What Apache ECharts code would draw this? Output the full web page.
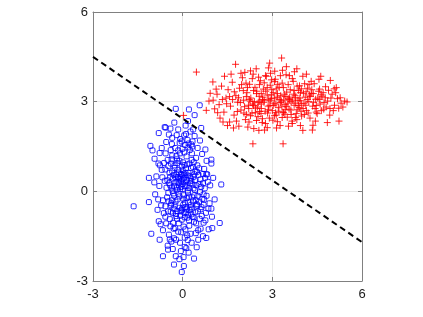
<!DOCTYPE html>
<html>
<head>
<meta charset="utf-8">
<script src="https://cdn.jsdelivr.net/npm/echarts@6/dist/echarts.min.js"></script>
<style>
  html, body { margin: 0; padding: 0; background: #fff; }
  #chart { width: 423px; height: 317px; }
</style>
</head>
<body>
<div id="chart"></div>
<script>
// axis ticks
const ticks = [-3, 0, 3, 6]

// class 1 (red plus markers)
const redPts = [
  [0.46,3.99],[0.03,2.54],[1.77,4.25],[2.91,4.29],[3.31,4.46],[2.46,4.10],[3.08,4.02],[3.82,4.10],[2.35,1.59],[3.36,1.59],
  [2.55,2.04],[4.02,2.04],[5.23,2.35],[5.50,2.99],[5.36,2.82],[5.14,3.47],[4.94,3.71],[4.56,3.75],[4.30,3.68],[1.01,3.66],
  [0.79,2.71],[0.88,3.02],[1.07,2.76],[1.35,2.32],[1.57,2.32],[4.36,2.21],[4.47,2.65],
  [1.02,3.05],[1.15,3.25],[1.22,2.90],[1.30,3.52],[1.38,2.65],[1.45,3.12],[1.52,3.40],[1.60,2.85],[1.66,3.65],[1.72,2.55],
  [1.78,3.20],[1.84,2.98],[1.90,3.45],[1.95,2.72],[2.00,3.80],[2.04,3.05],[2.10,2.40],[2.15,3.30],[2.20,2.88],[2.24,3.58],
  [2.28,3.12],[2.32,2.62],[2.36,3.92],[2.40,3.00],[2.44,2.78],[2.48,3.35],[2.52,2.50],[2.56,3.18],[2.60,3.70],[2.63,2.92],
  [2.66,2.30],[2.70,3.42],[2.73,3.05],[2.76,2.68],[2.80,3.85],[2.83,3.22],[2.86,2.85],[2.90,2.45],[2.93,3.55],[2.96,3.10],
  [3.00,2.70],[3.03,3.30],[3.06,2.95],[3.10,3.75],[3.13,2.55],[3.16,3.15],[3.20,2.80],[3.23,3.48],[3.26,2.20],[3.30,3.02],
  [3.33,3.62],[3.36,2.65],[3.40,3.25],[3.43,2.90],[3.46,3.90],[3.50,2.48],[3.53,3.10],[3.56,2.75],[3.60,3.40],[3.63,3.00],
  [3.66,2.35],[3.70,3.68],[3.73,2.88],[3.76,3.20],[3.80,2.60],[3.83,3.52],[3.86,3.05],[3.90,2.80],[3.94,3.30],[3.98,2.52],
  [4.02,3.85],[4.06,2.95],[4.10,3.15],[4.14,2.70],[4.18,3.45],[4.22,3.00],[4.26,2.45],[4.30,3.28],[4.35,2.85],[4.40,3.60],
  [4.45,3.08],[4.50,2.60],[4.55,3.35],[4.60,2.92],[4.66,3.18],[4.72,2.75],[4.78,3.50],[4.85,3.02],[4.92,2.55],[5.00,3.25],
  [5.08,2.88],[5.18,3.10],[5.30,2.95],[5.42,3.02],
  [1.80,2.35],[1.95,3.95],[2.05,2.62],[2.12,3.62],[2.18,2.15],[2.26,3.02],[2.34,2.92],[2.42,3.48],[2.50,2.82],[2.58,3.02],
  [2.62,2.60],[2.68,3.15],[2.72,2.98],[2.78,3.35],[2.84,2.62],[2.88,3.08],[2.92,2.88],[2.98,3.40],[3.02,2.38],[3.08,3.12],
  [3.12,2.92],[3.18,3.58],[3.22,2.68],[3.28,3.20],[3.32,2.85],[3.38,3.05],[3.42,2.58],[3.48,3.32],[3.52,2.95],[3.58,3.15],
  [3.62,2.72],[3.68,3.05],[3.72,3.25],[3.78,2.95],[3.82,2.40],[3.88,3.38],[3.92,3.12],[3.96,2.68],[4.04,3.28],[4.08,3.60],
  [4.12,2.88],[4.20,2.62],[4.24,3.22],[4.32,3.40],[4.38,2.98],[4.44,2.35],[4.52,3.12],[4.58,3.42],[4.64,2.70],[4.70,3.30],
  [4.80,2.82],[4.88,3.38],[4.96,3.12],[5.04,2.70],[5.12,3.30],[5.22,2.78],
  [1.40,3.85],[1.62,3.92],[1.88,2.18],[2.08,3.98],[2.22,2.32],[2.38,2.10],[2.54,3.82],[2.74,2.05],[2.94,3.95],[3.14,2.12],
  [3.34,4.05],[3.54,2.18],[3.74,4.00],[3.94,2.20],[4.14,3.92],[4.34,2.05],[4.62,3.85],[4.84,2.30],[1.25,2.45],[1.12,3.42],
  [1.50,2.20],[0.92,3.28],[1.70,2.12],
  [2.47,3.27],[3.11,2.63],[2.83,3.47],[3.57,3.07],[2.21,2.77],[3.91,3.53],[2.67,2.43],[3.27,3.87],[2.13,3.17],[4.03,2.77],
  [1.93,2.97],[3.47,2.83],[2.57,3.57],[3.77,2.47],[2.37,3.37],[4.27,3.17],[1.67,3.07],[3.07,3.67],[2.77,2.27],[3.67,3.77],
  [2.03,3.37],[4.47,2.87],[1.83,2.67],[3.17,2.33],[2.97,3.23],[3.37,3.47],[2.27,2.53],[4.17,3.07],[2.87,2.73],[3.87,2.87],
  [1.57,3.17],[2.53,2.97],[3.23,3.07],[3.97,3.43],[2.43,2.63],[3.63,2.57],[2.17,3.47],[4.37,3.27],[2.73,3.63],[3.43,2.73],
  [1.47,2.93],[2.93,3.03],[3.53,3.57],[4.07,2.57],[2.63,3.27],[3.33,2.47],[2.07,2.83],[4.57,3.07],[3.03,2.87],[3.73,3.37],
  [1.73,3.33],[2.33,3.77],[3.13,3.43],[3.83,2.73],[2.83,2.13],[4.23,3.57],[2.23,3.07],[3.43,3.17],[2.63,2.77],[4.73,2.97],
  [1.97,3.57],[3.27,2.97],[2.47,2.37],[3.93,3.03],[2.77,3.87],[4.43,2.77],[3.07,2.53],[3.57,3.87],[2.13,2.57],[4.13,3.33],
  [1.87,3.13],[2.67,3.07],[3.37,2.63],[3.97,2.93],[2.97,3.73],[4.63,3.23],[2.37,2.87],[3.17,3.27],[3.77,3.13],[2.57,2.67],
  [5.27,3.13],[4.93,2.77],[5.07,3.43],[1.33,3.07],[1.17,2.63],[4.77,3.13],[2.87,4.13],[3.67,2.27],[2.27,4.03],[3.47,4.17]
]

// class 2 (blue square markers)
const bluePts = [
  [-1.64,-0.50],[-1.13,0.45],[-1.13,-0.36],[-1.05,-1.42],[-1.08,1.52],[-1.01,1.37],[-0.23,2.76],[0.21,2.74],[0.57,2.88],[1.29,0.23],
  [1.24,-1.06],[0.99,-1.23],[-0.66,-2.17],[-0.23,-2.17],[0.03,-2.20],[0.38,-2.25],[-0.29,-2.45],[0.04,-2.50],[-0.03,-2.70],[-0.49,-1.95],
  [0.07,-1.86],[-0.77,-1.62],[-0.43,-1.61],[0.79,-1.56],[0.62,2.12],[-0.57,2.13],[-0.41,2.10],[-0.80,1.95],[-0.35,1.79],[0.96,1.06],
  [0.96,0.93],[0.79,0.57],[0.96,-0.58],[-0.81,0.93],[-0.94,1.09],[-0.77,1.28],
  [-0.55,1.65],[-0.48,0.85],[-0.42,0.20],[-0.38,-0.40],[-0.35,1.20],[-0.32,-1.05],[-0.30,0.55],[-0.28,-0.15],[-0.25,1.45],[-0.22,-0.75],
  [-0.20,0.05],[-0.18,0.95],[-0.15,-1.35],[-0.12,0.40],[-0.10,-0.55],[-0.08,1.75],[-0.05,0.15],[-0.03,-0.95],[0.00,0.70],[0.02,-0.25],
  [0.05,1.30],[0.07,-1.55],[0.10,0.30],[0.12,-0.70],[0.15,0.90],[0.18,-0.05],[0.20,1.60],[0.22,-1.15],[0.25,0.50],[0.28,-0.45],
  [0.30,1.05],[0.33,-0.85],[0.36,0.10],[0.40,1.85],[0.44,-0.30],[0.48,0.65],[0.52,-1.30],[0.56,0.25],[0.60,-0.60],[0.65,1.25],
  [0.70,-0.10],[0.75,0.45],
  [-0.60,0.35],[-0.58,-0.85],[-0.52,-0.20],[-0.50,1.05],[-0.46,-1.45],[-0.44,0.62],[-0.40,-0.68],[-0.36,1.58],[-0.34,0.02],[-0.30,-1.25],
  [-0.27,0.78],[-0.24,-0.35],[-0.21,1.18],[-0.19,-0.92],[-0.16,0.48],[-0.14,-0.08],[-0.11,1.02],[-0.09,-1.72],[-0.06,0.58],[-0.04,-0.62],
  [-0.01,1.42],[0.01,0.08],[0.03,-1.18],[0.06,0.88],[0.08,-0.38],[0.11,1.92],[0.13,0.18],[0.16,-0.88],[0.19,0.62],[0.21,-0.18],
  [0.24,1.38],[0.26,-1.42],[0.29,0.35],[0.31,-0.58],[0.34,0.82],[0.38,-1.02],[0.41,0.05],[0.45,1.12],[0.49,-0.48],[0.53,0.55],
  [0.57,-0.92],[0.62,0.15],[0.66,-0.25],[0.72,0.75],[0.78,-0.72],[0.84,0.32],[0.90,-0.40],[-0.66,-0.30],[-0.70,0.72],[-0.74,-1.10],
  [-0.78,0.18],[-0.84,-0.62],[-0.88,0.50],[-0.92,-0.10],
  [-0.05,0.35],[0.04,0.45],[-0.02,0.55],[0.09,0.62],[-0.12,0.28],[0.14,0.38],[0.00,0.25],[0.06,-0.72],[-0.08,-0.82],[0.12,-0.60],
  [-0.18,-0.66],[0.18,-0.78],[0.02,-0.45],[-0.14,0.72],[0.22,0.12],[-0.24,0.30],[0.28,0.78],[-0.30,-0.58],[0.32,-0.20],[0.36,0.48],
  [-0.36,-0.30],[0.42,-0.70],[-0.42,0.48],[0.46,0.20],[0.50,-0.15],[-0.48,-0.05],[0.55,-0.35],[0.60,0.40],[0.64,-0.82],[0.68,0.58],
  [0.70,-0.45],[0.74,0.10],[0.80,-0.15],[0.86,-0.58],[0.92,0.20],[-0.54,0.12],[-0.58,-0.50],[-0.62,0.95],[0.08,1.55],[-0.10,1.62],
  [0.16,1.72],[0.26,2.00],[-0.20,1.88],[0.32,1.50],[-0.40,1.38],[0.50,1.45],[0.58,1.70],[-0.46,1.90],[0.10,2.20],[0.18,2.35],
  [-0.28,2.30],[0.30,-1.72],[-0.22,-1.62],[0.44,-1.40],[-0.38,-1.68],[0.60,-1.25],[0.12,-1.90],[-0.06,-2.00],[0.20,-2.05],[-0.50,-1.82],
  [0.52,-1.62],[0.70,-1.05],[-0.66,-1.30],[0.80,1.02],[0.76,1.40],[-0.70,1.45],[-0.80,-1.00],[0.68,-1.50],[0.98,-0.85],[1.02,0.45],
  [-0.95,0.30],[-0.60,2.15],[0.40,2.55],
  [-0.07,0.47],[0.07,0.17],[-0.17,-0.27],[0.17,0.53],[-0.27,0.87],[0.27,-0.53],[-0.13,-1.07],[0.13,1.17],[-0.37,0.13],[0.37,-0.87],
  [-0.03,0.83],[0.03,-0.13],[-0.23,-0.83],[0.23,0.93],[-0.33,0.43],[0.33,0.23],[-0.43,-0.93],[0.43,0.67],[-0.09,1.27],[0.09,-1.27],
  [-0.19,0.13],[0.19,-0.37],[-0.29,-1.57],[0.29,1.57],[-0.39,0.93],[0.39,-0.13],[-0.49,-0.67],[0.49,0.87],[-0.01,-0.57],[0.01,0.97],
  [-0.11,-0.17],[0.11,0.77],[-0.21,0.57],[0.21,-0.97],[-0.31,-0.07],[0.31,1.27],[-0.41,-1.17],[0.41,0.37],[-0.51,0.37],[0.51,-0.67],
  [-0.15,1.37],[0.15,-1.47],[-0.25,-1.23],[0.25,0.27],[-0.35,0.67],[0.35,-0.33],[-0.45,0.27],[0.45,-1.07],[-0.55,-1.07],[0.55,0.77],
  [-0.05,-1.37],[0.05,0.57],[-0.09,0.07],[0.09,-0.53],[-0.19,1.07],[0.19,1.47],[-0.29,0.17],[0.29,-0.77],[-0.39,-0.47],[0.39,0.57],
  [-0.13,0.63],[0.13,-0.23],[-0.23,0.47],[0.23,-0.63],[-0.33,-0.73],[0.33,1.67],[-0.03,1.67],[0.03,0.37],[-0.63,-0.73],[0.63,-0.53],
  [-0.68,0.47],[0.68,0.27],[-0.72,-0.47],[0.72,-0.27],[-0.76,0.87],[0.76,-0.97],[-0.82,-0.27],[0.82,0.57],[0.58,-0.03],[-0.58,0.73],
  [0.47,-0.43],[-0.47,-0.33],[0.07,-0.87],[-0.07,-0.67],[0.17,0.03],[-0.17,0.33],[0.27,0.43],[-0.27,-0.47],[0.37,0.97],[-0.37,1.07],
  [0.05,1.87],[-0.15,2.07],[0.35,2.07],[-0.33,-1.93],[0.17,-1.63],[-0.11,-2.27],[0.47,-1.87],[-0.57,1.27],[0.87,-1.27],[1.07,-0.27]
]

// decision boundary end points
const boundary = [[-3, 4.5], [6, -1.7]]

const axisColor = '#808080'
const labelStyle = { color: '#1a1a1a', fontSize: 13, fontFamily: 'Liberation Sans, Arial, sans-serif' }

const mkAxis = (pos, showLabel, showSplit, margin) => ({
  type: 'value',
  position: pos,
  min: ticks[0],
  max: ticks[ticks.length - 1],
  interval: 3,
  axisLine: { show: true, onZero: false, lineStyle: { color: axisColor, width: 1 } },
  axisTick: { show: true, inside: true, length: 4, lineStyle: { color: axisColor } },
  axisLabel: Object.assign({ show: showLabel, margin: margin }, labelStyle),
  splitLine: { show: showSplit, lineStyle: { color: '#e8e8e8', width: 1 } }
})

const chart = echarts.init(document.getElementById('chart'), null, { renderer: 'canvas' })
chart.setOption({
  animation: false,
  backgroundColor: '#fff',
  grid: { left: 93, right: 61, top: 12, bottom: 36, containLabel: false },
  xAxis: [mkAxis('bottom', true, true, 7), mkAxis('top', false, false, 7)],
  yAxis: [mkAxis('left', true, true, 5), mkAxis('right', false, false, 5)],
  series: [
    {
      type: 'scatter',
      data: redPts,
      symbol: 'path://M5,0L5,10M0,5L10,5',
      symbolSize: 7,
      itemStyle: { color: 'none', borderColor: '#ff0000', borderWidth: 1, opacity: 0.85 },
      z: 2
    },
    {
      type: 'scatter',
      data: bluePts,
      symbol: 'roundRect',
      symbolSize: 5,
      itemStyle: { color: 'none', borderColor: '#0000ff', borderWidth: 1, opacity: 0.85 },
      z: 3
    },
    {
      type: 'line',
      data: boundary,
      symbol: 'none',
      lineStyle: { color: '#000', width: 2, type: [6, 4] },
      z: 4
    }
  ]
})
</script>
</body>
</html>
